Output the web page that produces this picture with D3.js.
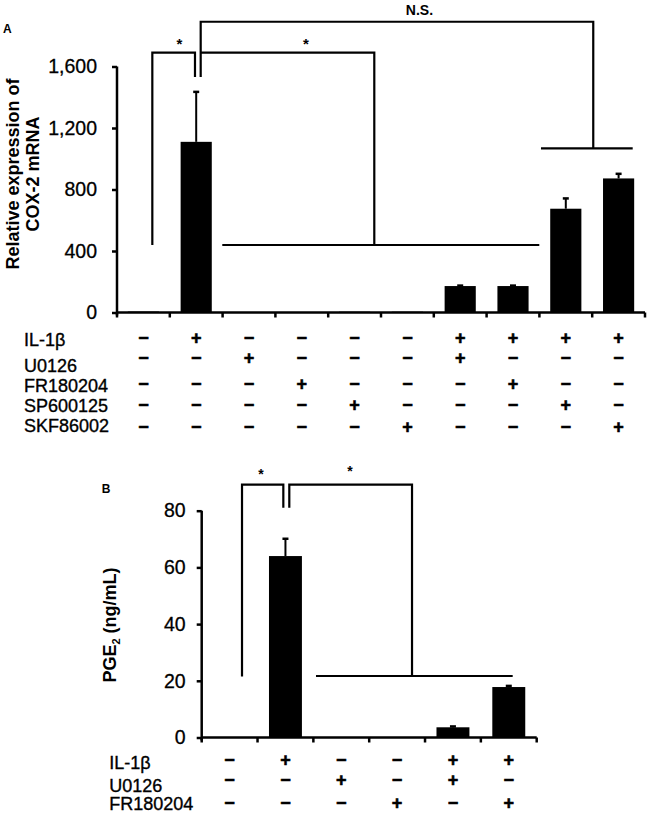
<!DOCTYPE html>
<html><head><meta charset="utf-8">
<script src="https://cdn.jsdelivr.net/npm/d3@7"></script>
<style>body{margin:0;background:#fff}svg{display:block}text{font-family:"Liberation Sans",Arial,sans-serif;fill:#000}</style>
</head><body>
<script>
// ---------- Panel A data ----------
const rowLabelsA = ["IL-1β", "U0126", "FR180204", "SP600125", "SKF86002"];
const conditionsA = [
  [0,1,0,0,0,0,1,1,1,1],
  [0,0,1,0,0,0,1,0,0,0],
  [0,0,0,1,0,0,0,1,0,0],
  [0,0,0,0,1,0,0,0,1,0],
  [0,0,0,0,0,1,0,0,0,1]
];
const valuesA = [6, 1110, 1, 1, 5, 5, 172, 172, 675, 872];
const errorsA = [0, 325, 0, 0, 0, 0, 3, 3, 67, 30];
const ticksA = [0, 400, 800, 1200, 1600];
const titleA = ["Relative expression of", "COX-2 mRNA"];
// brackets in (category index, value) units
const bracketsA = [
  [[0.169,439],[0.169,1690],[0.977,1690],[0.977,1532]],
  [[1.085,1532],[1.085,1891],[8.52,1891],[8.52,1068]],
  [[1.085,1690],[4.373,1690],[4.373,439]],
  [[1.494,439],[7.498,439]],
  [[7.53,1068],[9.267,1068]]
];
const marksA = [{t:"*", i:0.68, v:1777}, {t:"*", i:3.08, v:1777}, {t:"N.S.", i:5.229, v:1967}];

// ---------- Panel B data ----------
const rowLabelsB = ["IL-1β", "U0126", "FR180204"];
const conditionsB = [
  [0,1,0,0,1,1],
  [0,0,1,0,1,0],
  [0,0,0,1,0,1]
];
const valuesB = [0, 64, 0, 0, 3.6, 17.8];
const errorsB = [0, 6.1, 0, 0, 0.3, 0.4];
const ticksB = [0, 20, 40, 60, 80];
const bracketsB = [
  [[0.222,21.5],[0.222,89.2],[0.962,89.2],[0.962,81]],
  [[1.069,81],[1.069,89.2],[3.267,89.2],[3.267,21.7]],
  [[1.547,21.7],[5.07,21.7]]
];
const marksB = [{t:"*", i:0.562, v:94.4}, {t:"*", i:2.157, v:95.4}];

const svg = d3.select("body").append("svg").attr("width",647).attr("height",814);
svg.append("rect").attr("width",647).attr("height",814).attr("fill","#fff");

function panel(cfg){
  const g = svg.append("g");
  const n = cfg.values.length;
  const x = d3.scaleBand().domain(d3.range(n)).range([cfg.x0, cfg.x1]).paddingInner(0.41).paddingOuter(0.205);
  const step = x.step();
  const xi = i => cfg.x0 + (i + 0.5) * step;
  const y = d3.scaleLinear().domain([0, cfg.ymax]).range([cfg.yb, cfg.yt]);

  // bars
  g.selectAll("rect.bar").data(cfg.values).join("rect")
    .attr("x",(d,i)=>x(i)).attr("width",x.bandwidth())
    .attr("y",d=>y(d)).attr("height",d=>Math.max(0,y(0)-y(d)))
    .attr("fill","#000");
  // error bars
  const eb = cfg.values.map((v,i)=>({v, e:cfg.errors[i], i})).filter(d=>d.e>0);
  g.selectAll("line.err").data(eb).join("line")
    .attr("x1",d=>xi(d.i)).attr("x2",d=>xi(d.i))
    .attr("y1",d=>y(d.v)).attr("y2",d=>y(d.v+d.e))
    .attr("stroke","#000").attr("stroke-width",2);
  g.selectAll("line.cap").data(eb).join("line")
    .attr("x1",d=>xi(d.i)-3).attr("x2",d=>xi(d.i)+3)
    .attr("y1",d=>y(d.v+d.e)).attr("y2",d=>y(d.v+d.e))
    .attr("stroke","#000").attr("stroke-width",2.5);

  // y axis
  const ya = g.append("g").attr("transform",`translate(${cfg.x0},0)`)
    .call(d3.axisLeft(y).tickValues(cfg.ticks).tickFormat(d3.format(",")).tickSize(5).tickSizeOuter(0).tickPadding(cfg.tickPad));
  ya.select(".domain").attr("stroke-width",2.5).attr("d",`M0,${cfg.yb+3}V${cfg.yt}`);
  ya.selectAll(".tick line").attr("stroke-width",2.5);
  ya.selectAll(".tick text").attr("font-size",19.5).attr("font-family","'Liberation Sans',Arial,sans-serif")
    .attr("fill","#000").attr("stroke","#000").attr("stroke-width",0.3);

  // x axis
  g.append("line").attr("x1",cfg.x0).attr("x2",cfg.x1).attr("y1",y(0)).attr("y2",y(0)).attr("stroke","#000").attr("stroke-width",2.5);
  g.selectAll("line.xt").data(d3.range(n+1)).join("line")
    .attr("x1",i=>cfg.x0+i*step).attr("x2",i=>cfg.x0+i*step)
    .attr("y1",y(0)).attr("y2",y(0)+5).attr("stroke","#000").attr("stroke-width",2.5);

  // brackets
  const ln = d3.line().x(p=>xi(p[0])).y(p=>y(p[1]));
  g.selectAll("path.br").data(cfg.brackets).join("path")
    .attr("d",ln).attr("fill","none").attr("stroke","#000").attr("stroke-width",2.2);
  g.selectAll("text.mk").data(cfg.marks).join("text")
    .attr("x",d=>xi(d.i)).attr("y",d=>y(d.v))
    .attr("text-anchor","middle")
    .attr("font-size",d=>d.t==="*"?cfg.starSize:14)
    .attr("font-weight","bold")
    .attr("dy",d=>d.t==="*"?"0.62em":"0.36em")
    .text(d=>d.t);

  // condition table
  cfg.rowLabels.forEach((lab,r)=>{
    g.append("text").attr("x",cfg.labelX).attr("y",cfg.labelBase[r])
      .attr("font-size",18).attr("stroke","#000").attr("stroke-width",0.35).text(lab);
    g.selectAll(null).data(cfg.cond[r]).join("text")
      .attr("x",(d,i)=>xi(i)).attr("y",cfg.signBase[r])
      .attr("text-anchor","middle").attr("font-size",18).attr("font-weight","bold")
      .attr("stroke","#000").attr("stroke-width",0.6)
      .text(d=>d?"+":"−");
  });
  return {x,y,xi};
}

panel({x0:117, x1:645, yb:312.5, yt:66.5, ymax:1600, values:valuesA, errors:errorsA, ticks:ticksA, tickPad:15,
  brackets:bracketsA, marks:marksA, starSize:15, rowLabels:rowLabelsA, cond:conditionsA,
  labelX:24, labelBase:[346,371.5,391.7,412,431.5], signBase:[344,364,390,411,433]});

panel({x0:201.7, x1:536.7, yb:737.5, yt:510.7, ymax:80, values:valuesB, errors:errorsB, ticks:ticksB, tickPad:11,
  brackets:bracketsB, marks:marksB, starSize:14, rowLabels:rowLabelsB, cond:conditionsB,
  labelX:109.3, labelBase:[768.5,791.5,810], signBase:[766,786,809]});

// axis titles
const tA = svg.append("text").attr("transform","translate(18.5,174) rotate(-90)")
  .attr("text-anchor","middle").attr("font-size",18).attr("font-weight","bold");
tA.append("tspan").attr("x",0).attr("y",0).text(titleA[0]);
tA.append("tspan").attr("x",0).attr("y",20).text(titleA[1]);

const tB = svg.append("text").attr("transform","translate(115.5,625) rotate(-90)")
  .attr("text-anchor","middle").attr("font-size",18).attr("font-weight","bold");
tB.append("tspan").text("PGE");
tB.append("tspan").attr("font-size",11).attr("dy",4).text("2");
tB.append("tspan").attr("dy",-4).text(" (ng/mL)");

svg.append("text").attr("x",3).attr("y",33.3).attr("font-size",12).attr("font-weight","bold").text("A");
svg.append("text").attr("x",101.7).attr("y",493.3).attr("font-size",12).attr("font-weight","bold").text("B");
</script>
</body></html>
